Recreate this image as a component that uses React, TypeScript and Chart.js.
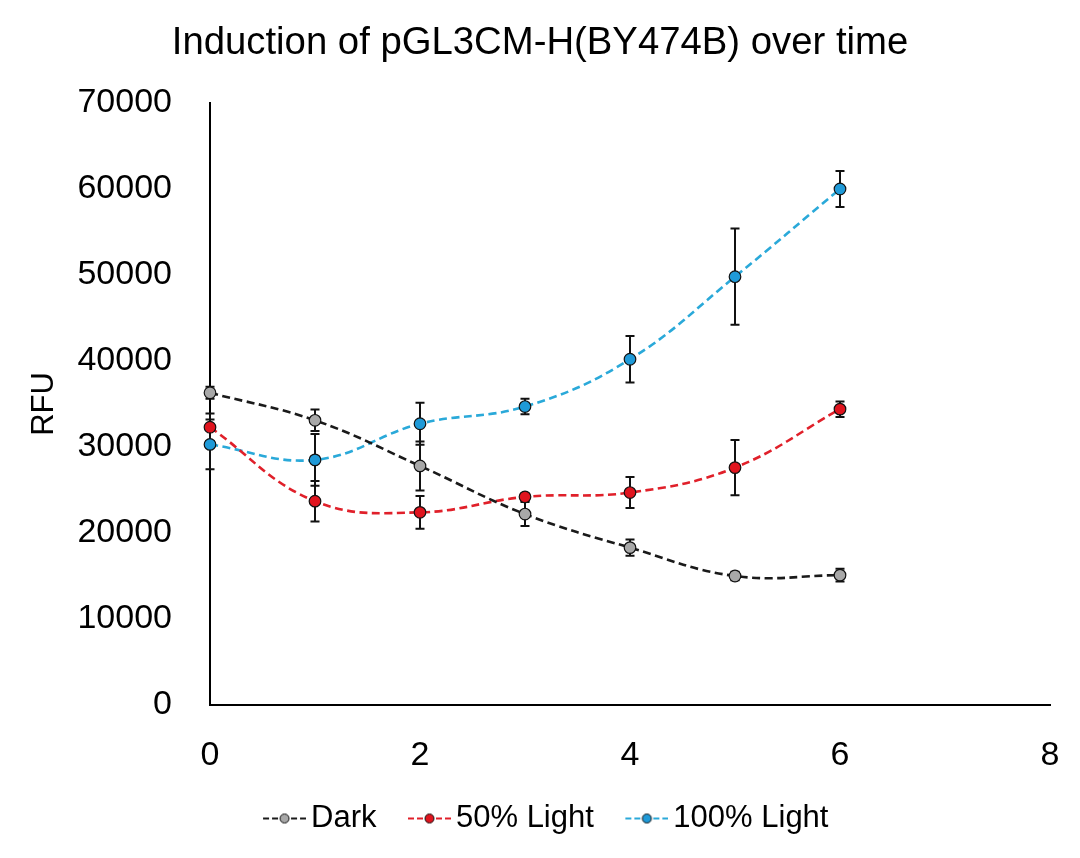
import React, { useEffect, useRef } from "react";
import { Chart, registerables } from "chart.js";

Chart.register(...registerables);

const timePoints = [0, 1, 2, 3, 4, 5, 6];
const darkValues = [36300, 33100, 27800, 22200, 18300, 15000, 15100];
const darkErrors = [700, 1250, 2850, 1400, 950, 500, 750];
const light50Values = [32300, 23700, 22400, 24200, 24700, 27600, 34400];
const light50Errors = [1600, 2350, 1900, 300, 1800, 3200, 900];
const light100Values = [30300, 28500, 32700, 34700, 40200, 49800, 60000];
const light100Errors = [2900, 3000, 2450, 900, 2700, 5600, 2100];
const seriesLabels = ["Dark", "50% Light", "100% Light"];
const titleText = "Induction of pGL3CM-H(BY474B) over time";
const yAxisTitle = "RFU";

const FONT = "'Liberation Sans', Arial, sans-serif";

const lineColors = ["#1a1a1a", "#e0202a", "#2aa9d9"];
const markerFills = ["#a8a8a8", "#e0141e", "#1f9ad8"];
const errorSets = [darkErrors, light50Errors, light100Errors];

function makeLegendIcon(lineColor: string, fill: string): HTMLCanvasElement {
  const c = document.createElement("canvas");
  c.width = 65;
  c.height = 14;
  const ctx = c.getContext("2d")!;
  const x0 = 22;
  const x1 = 65;
  const cx = (x0 + x1) / 2;
  ctx.strokeStyle = lineColor;
  ctx.lineWidth = 2;
  ctx.setLineDash([6, 3]);
  ctx.beginPath();
  ctx.moveTo(x0, 7);
  ctx.lineTo(cx - 5, 7);
  ctx.stroke();
  ctx.beginPath();
  ctx.moveTo(x1, 7);
  ctx.lineTo(cx + 5, 7);
  ctx.stroke();
  ctx.setLineDash([]);
  ctx.beginPath();
  ctx.arc(cx, 7, 4.5, 0, Math.PI * 2);
  ctx.fillStyle = fill;
  ctx.fill();
  ctx.lineWidth = 1;
  ctx.strokeStyle = "#111";
  ctx.stroke();
  return c;
}

const errorBarPlugin = {
  id: "errorBars",
  beforeDatasetsDraw(chart: any) {
    const ctx = chart.ctx;
    const xs = chart.scales.x;
    const ys = chart.scales.y;
    ctx.save();
    ctx.strokeStyle = "#111";
    ctx.lineWidth = 2;
    chart.data.datasets.forEach((ds: any, di: number) => {
      const errs = errorSets[di];
      ds.data.forEach((pt: any, i: number) => {
        const e = errs[i];
        if (!e) return;
        const x = xs.getPixelForValue(pt.x);
        const yt = ys.getPixelForValue(pt.y + e);
        const yb = ys.getPixelForValue(pt.y - e);
        ctx.beginPath();
        ctx.moveTo(x, yt);
        ctx.lineTo(x, yb);
        ctx.moveTo(x - 4.5, yt);
        ctx.lineTo(x + 4.5, yt);
        ctx.moveTo(x - 4.5, yb);
        ctx.lineTo(x + 4.5, yb);
        ctx.stroke();
      });
    });
    ctx.restore();
  },
};

export default function App() {
  const canvasRef = useRef<HTMLCanvasElement | null>(null);

  useEffect(() => {
    if (!canvasRef.current) return;
    const allValues = [darkValues, light50Values, light100Values];
    const icons = seriesLabels.map((_, i) => makeLegendIcon(lineColors[i], markerFills[i]));
    const chart = new Chart(canvasRef.current, {
      type: "line",
      data: {
        datasets: seriesLabels.map((label, i) => ({
          label,
          data: timePoints.map((t, j) => ({ x: t, y: allValues[i][j] })),
          borderColor: lineColors[i],
          backgroundColor: markerFills[i],
          borderWidth: 2.6,
          borderDash: [8, 4.5],
          tension: 0.4,
          pointRadius: 5.8,
          pointBorderWidth: 1.2,
          pointBorderColor: "#111",
          pointBackgroundColor: markerFills[i],
          clip: false as any,
          fill: false,
        })),
      },
      options: {
        animation: false,
        responsive: false,
        devicePixelRatio: 1,
        layout: { padding: { left: 23, right: 23, top: 0, bottom: 14 } },
        plugins: {
          title: {
            display: true,
            text: titleText,
            color: "#000",
            font: { family: FONT, size: 38.3, weight: "normal" as any },
            padding: { top: 20, bottom: 37 },
          },
          legend: {
            display: true,
            position: "bottom",
            labels: {
              color: "#000",
              font: { family: FONT, size: 31 },
              usePointStyle: true,
              pointStyleWidth: 44,
              padding: 20,
              generateLabels: (ch: any) =>
                ch.data.datasets.map((ds: any, i: number) => ({
                  text: ds.label,
                  pointStyle: icons[i],
                  fillStyle: markerFills[i],
                  strokeStyle: lineColors[i],
                  lineWidth: 0,
                  hidden: false,
                  datasetIndex: i,
                  fontColor: "#000",
                })),
            },
          },
          tooltip: { enabled: false },
        },
        scales: {
          x: {
            type: "linear",
            min: 0,
            max: 8,
            ticks: {
              stepSize: 2,
              color: "#000",
              padding: 30,
              font: { family: FONT, size: 34 },
            },
            grid: { display: false, drawTicks: false },
            border: { display: true, color: "#000", width: 2 },
            afterFit: (scale: any) => {
              scale.height = 78;
              scale.paddingLeft = 0;
              scale.paddingRight = 30;
            },
          },
          y: {
            type: "linear",
            min: 0,
            max: 70000,
            ticks: {
              stepSize: 10000,
              color: "#000",
              padding: 38,
              font: { family: FONT, size: 34 },
              callback: (v: any) => String(v),
            },
            grid: { display: false, drawTicks: false },
            border: { display: true, color: "#000", width: 2 },
            title: {
              display: true,
              text: yAxisTitle,
              color: "#000",
              font: { family: FONT, size: 31 },
              padding: { top: 3, bottom: 0 },
            },
            afterFit: (scale: any) => {
              scale.width = 187;
            },
          },
        },
      },
      plugins: [errorBarPlugin],
    });
    return () => chart.destroy();
  }, []);

  return (
    <div style={{ position: "absolute", left: 0, top: 0, width: 1080, height: 858, background: "#fff" }}>
      <canvas ref={canvasRef} width={1080} height={858} />
    </div>
  );
}
